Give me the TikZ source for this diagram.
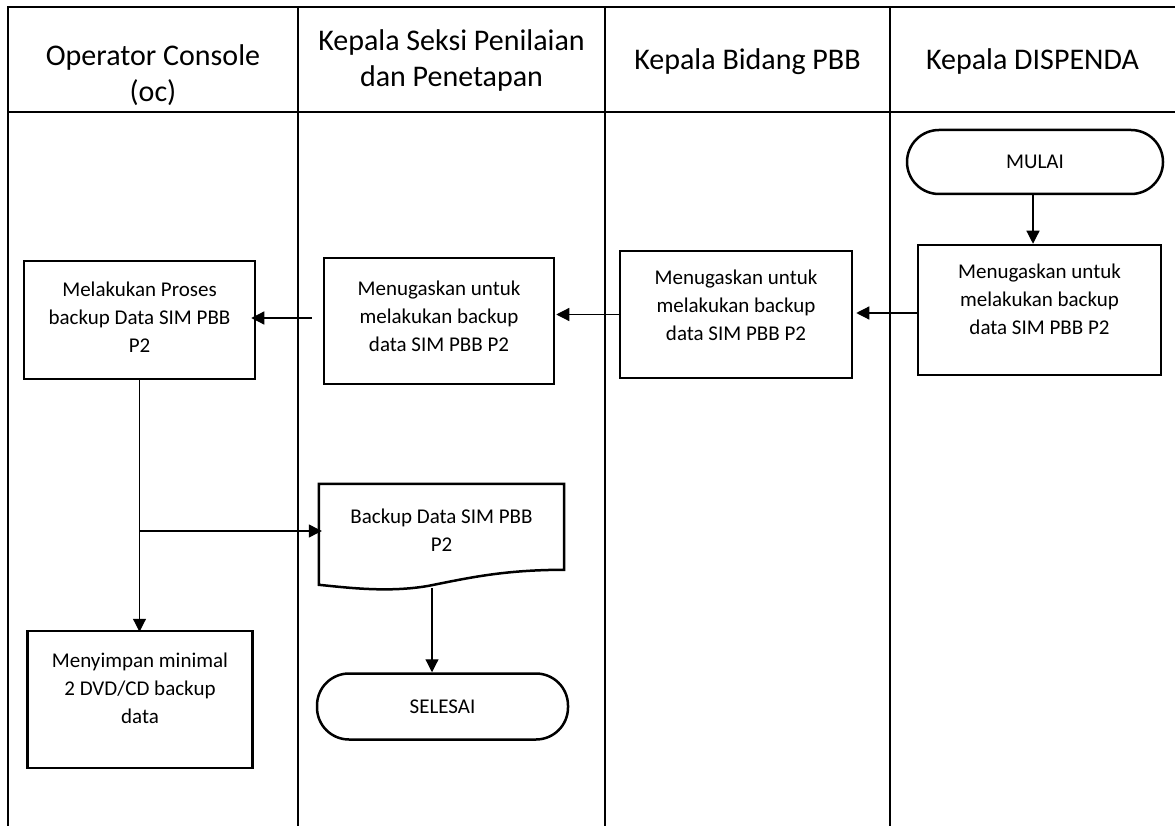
\documentclass[tikz,border=0pt]{standalone}
\usepackage{fontspec}
\setmainfont{Carlito}
\usetikzlibrary{arrows.meta,calc}
\begin{document}
\begin{tikzpicture}[x=1pt,y=-1pt,
  grid/.style={line width=1.5pt},
  hdr/.style={font=\fontsize{30}{36}\selectfont, inner sep=0pt, align=center},
  box/.style={draw, line width=2.5pt, inner sep=0pt},
  boxtext/.style={font=\fontsize{21}{28}\selectfont, align=center, inner sep=0pt},
  term/.style={draw, line width=2.5pt, rounded corners=32pt, inner sep=0pt, font=\fontsize{21}{28}\selectfont},
  flow/.style={line width=1.2pt, -{Triangle[length=13pt,width=13pt]}},
  link/.style={line width=1.2pt}
]
\useasboundingbox (0,0) rectangle (1175,826);

% swimlane grid
\draw[grid] (8,826) -- (8,7) -- (1175,7);
\draw[grid] (8,112) -- (1175,112);
\draw[grid] (298,7) -- (298,826);
\draw[grid] (605,7) -- (605,826);
\draw[grid] (890,7) -- (890,826);

% headers
\node[hdr] (h1) at (153,75) {Operator Console\\(oc)};
\node[hdr] (h2) at (451.5,61) {Kepala Seksi Penilaian\\dan Penetapan};
\node[hdr] (h3) at (747.5,62) {Kepala Bidang PBB};
\node[hdr] (h4) at (1032.5,62) {Kepala DISPENDA};

% terminators
\node[term, minimum width=256pt, minimum height=64pt] (mulai) at (1035,162) {MULAI};
\node[term, minimum width=251pt, minimum height=66pt] (sel) at (442.5,706.5) {SELESAI};

% process boxes
\node[box, minimum width=231pt, minimum height=118pt] (b1) at (139.5,320) {};
\node[boxtext] (t1) at (139.5,317) {Melakukan Proses\\backup Data SIM PBB\\P2};
\node[box, minimum width=230pt, minimum height=126pt] (b2) at (439,321) {};
\node[boxtext] (t2) at (439,316) {Menugaskan untuk\\melakukan backup\\data SIM PBB P2};
\node[box, minimum width=232pt, minimum height=127pt] (b3) at (736,314.5) {};
\node[boxtext] (t3) at (736,305) {Menugaskan untuk\\melakukan backup\\data SIM PBB P2};
\node[box, minimum width=243pt, minimum height=130pt] (b4) at (1039.5,310) {};
\node[boxtext] (t4) at (1039.5,299) {Menugaskan untuk\\melakukan backup\\data SIM PBB P2};
\node[box, minimum width=225pt, minimum height=137pt] (b5) at (140,699.5) {};
\node[boxtext] (t5) at (140,688) {Menyimpan minimal\\2 DVD/CD backup\\data};

% document shape
\node[inner sep=0pt, minimum width=245pt, minimum height=104pt] (doc) at (441.5,536) {};
\draw[line width=2.5pt, line join=miter]
  (doc.north west) -- (doc.north east) -- ($(doc.north east)+(0,86)$)
  .. controls ($(doc.north east)+(-60,0)+(0,86)$) and ($(doc.north west)+(150,94)$) .. ($(doc.north west)+(110,102)$)
  .. controls ($(doc.north west)+(70,109)$) and ($(doc.north west)+(30,104)$) .. ($(doc.north west)+(0,101)$)
  -- cycle;
\node[boxtext] (tdoc) at (441.5,530.5) {Backup Data SIM PBB\\P2};

% connectors
\draw[flow] ([xshift=-2pt]mulai.south) -- ([xshift=-2pt]mulai.south |- b4.north);
\draw[flow, shorten >=3pt] ([yshift=-3pt]b4.west) -- ([yshift=-3pt]b4.west -| b3.east);
\draw[flow, shorten >=1pt] (b3.west) -- (b3.west -| b2.east);
\draw[flow, shorten >=-5pt] ([xshift=-11pt,yshift=3pt]b2.west) -- ([yshift=3pt]b2.west -| b1.east);
\coordinate (br) at (139.5,531);
\draw[link] (b1.south) -- (br);
\draw[flow, shorten >=-2pt] (br) -- (br |- b5.north);
\draw[flow, shorten >=-3pt] (br) -- (br -| doc.west);
\coordinate (dbot) at (432,588);
\draw[flow] (dbot) -- (dbot |- sel.north);
\end{tikzpicture}
\end{document}
